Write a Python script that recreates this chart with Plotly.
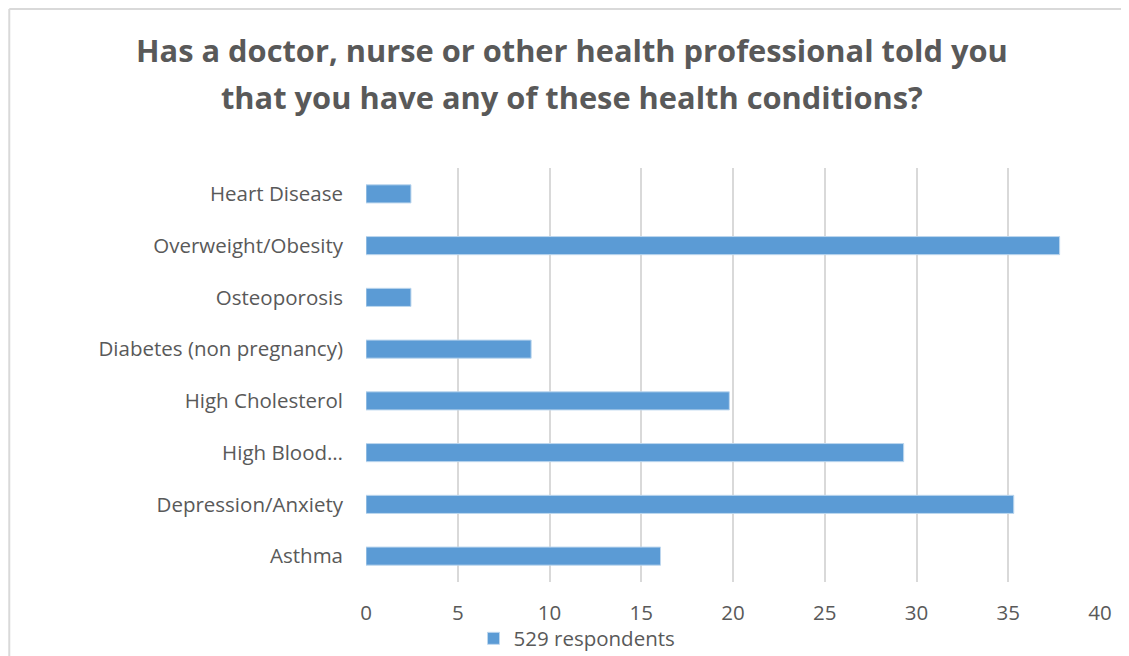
import plotly.graph_objects as go

# survey answers, bottom to top as drawn
conditions = ["Asthma", "Depression/Anxiety", "High Blood…", "High Cholesterol",
              "Diabetes (non pregnancy)", "Osteoporosis", "Overweight/Obesity", "Heart Disease"]
percent = [16.05, 35.3, 29.3, 19.8, 9.0, 2.45, 37.8, 2.45]
series_name = "529 respondents"
x_ticks = [0, 5, 10, 15, 20, 25, 30, 35, 40]
title_lines = ["Has a doctor, nurse or other health professional told you",
               "that you have any of these health conditions?"]

grey = "#595959"
blue = "#5B9BD5"
frame = "#D9D9D9"

fig = go.Figure()
fig.add_trace(go.Bar(
    y=conditions, x=percent, orientation="h", name=series_name,
    marker=dict(color=blue, line=dict(color="#BDD7EE", width=1)),
))

# two title lines placed separately to get the wider line spacing
for txt, ty in zip(title_lines, [1.285, 1.1715]):
    fig.add_annotation(text=txt, xref="paper", yref="paper", x=0.2807, y=ty,
                       xanchor="center", yanchor="middle", showarrow=False,
                       font=dict(family="Open Sans", size=30.8, color=grey, weight="bold"))

# page body has an 8px margin, so the figure is a bit smaller than the window
fig.update_layout(
    width=1121, height=648,
    margin=dict(l=358, r=29, t=160, b=74, autoexpand=False),
    paper_bgcolor="white", plot_bgcolor="white",
    font=dict(family="Open Sans", color=grey, size=20.5),
    bargap=0.65,
    showlegend=True,
    legend=dict(orientation="h", x=0.2875, xanchor="center",
                yref="container", y=0.027, yanchor="middle",
                bgcolor="rgba(0,0,0,0)", font=dict(size=20.5, color=grey)),
    xaxis=dict(range=[0, 40], tickvals=x_ticks, showgrid=True, gridcolor=frame,
               gridwidth=2, zeroline=False, showline=False, ticks="",
               ticklabelstandoff=16, tickfont=dict(size=20.5, color=grey)),
    yaxis=dict(categoryorder="array", categoryarray=conditions, showgrid=False,
               ticks="", ticklabelstandoff=22, tickfont=dict(size=20.5, color=grey),
               showline=False),
    # chart frame: only the top and left edges are inside the crop
    shapes=[dict(type="line", xref="paper", yref="paper", x0=-0.486, x1=1.2,
                 y0=1.384, y1=1.384, line=dict(color=frame, width=2)),
            dict(type="line", xref="paper", yref="paper", x0=-0.486, x1=-0.486,
                 y0=-0.3, y1=1.384, line=dict(color=frame, width=2))],
)

fig.write_html("out.html")
